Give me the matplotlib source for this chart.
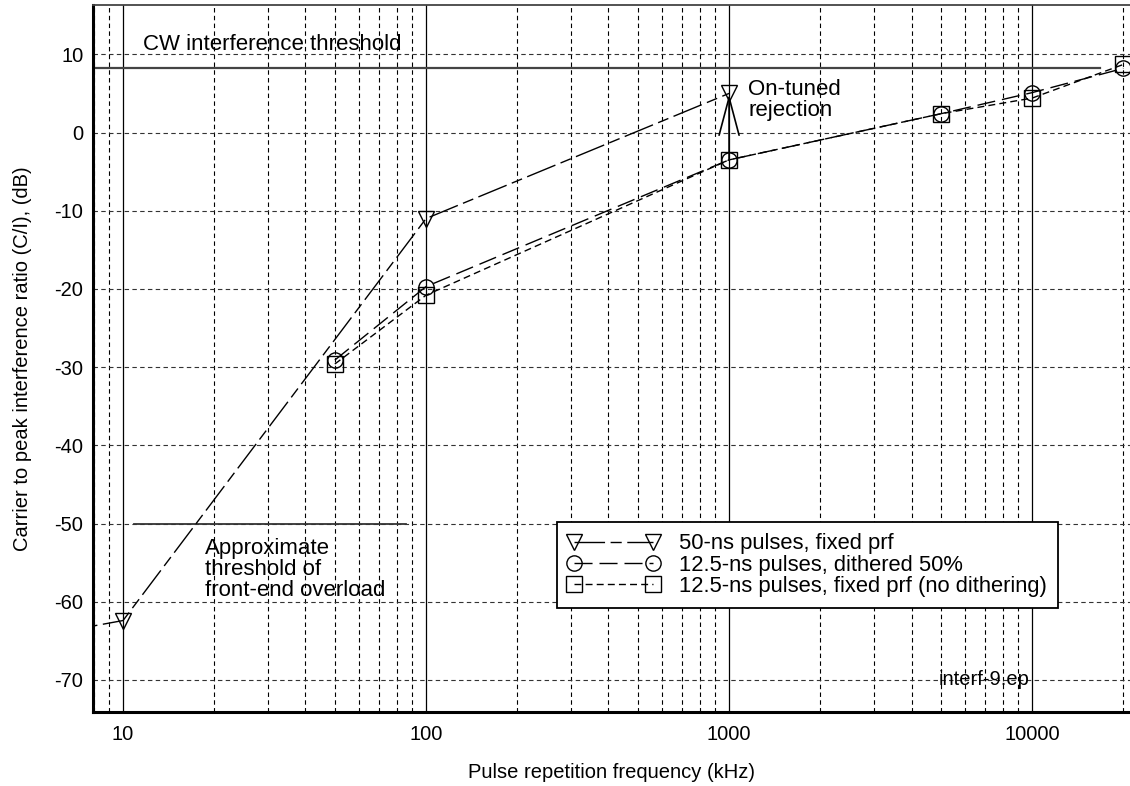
import numpy as np
import matplotlib.pyplot as plt
from matplotlib.ticker import FixedLocator, NullFormatter

plt.rcParams['font.family'] = ['Liberation Sans', 'DejaVu Sans']
plt.rcParams['font.size'] = 16
plt.rcParams['axes.unicode_minus'] = False

# prf en kHz, C/I en dB
prf_50ns = [1, 10, 100, 1000]
ci_50ns = [-69.5, -62.4, -11.0, 5.0]

prf_dith = [50, 100, 1000, 5000, 10000, 20000]
ci_dith = [-29.1, -19.7, -3.5, 2.4, 5.1, 8.2]

prf_fixe = [50, 100, 1000, 5000, 10000, 20000]
ci_fixe = [-29.6, -20.8, -3.5, 2.4, 4.4, 8.7]

seuil_cw = 8.2
seuil_surcharge = -50

etiquettes = ["50-ns pulses, fixed prf",
              "12.5-ns pulses, dithered 50%",
              "12.5-ns pulses, fixed prf (no dithering)"]

fig = plt.figure(figsize=(11.3, 7.86), dpi=100)
ax = fig.add_axes([0.0823, 0.0941, 0.9177, 0.8995])
ax.set_xscale('log')
ax.set_xlim(7.96, 21040)
ax.set_ylim(-74.1, 16.3)

# grille: decades en trait plein, le reste en pointilles
decades = [10, 100, 1000, 10000]
mineurs = [m * d for d in [1, 10, 100, 1000, 10000] for m in range(2, 10)]
for d in decades:
    ax.axvline(d, color='black', lw=0.9, zorder=1)
for m in mineurs:
    ax.axvline(m, color='black', lw=0.8, ls=(0, (4, 3)), zorder=1)
for y in range(-70, 11, 10):
    ax.axhline(y, color='#333333', lw=0.8, ls=(0, (4, 3)), zorder=1)

ax.xaxis.set_major_locator(FixedLocator(decades))
ax.set_xticklabels([str(d) for d in decades])
ax.xaxis.set_minor_locator(FixedLocator(mineurs))
ax.xaxis.set_minor_formatter(NullFormatter())
ax.set_yticks(range(-70, 11, 10))
ax.tick_params(which='both', length=0, labelsize=14.5)
ax.tick_params(axis='x', pad=9)
ax.tick_params(axis='y', pad=7)

# seuils
ax.plot([7.96, 16700], [seuil_cw, seuil_cw], color='#444444', lw=1.6, zorder=2)
ax.plot([10.9, 86], [seuil_surcharge, seuil_surcharge], color='#333333', lw=1.3, zorder=2)

ax.plot(prf_50ns, ci_50ns, color='black', lw=1.0, ls=(0, (22, 4, 8, 4)),
        marker='v', ms=12, mfc='none', mec='black', mew=1.0, zorder=4, label=etiquettes[0])
ax.plot(prf_dith, ci_dith, color='black', lw=1.0, ls=(0, (13, 5)),
        marker='o', ms=11, mfc='none', mec='black', mew=1.0, zorder=4, label=etiquettes[1])
ax.plot(prf_fixe, ci_fixe, color='black', lw=1.0, ls=(0, (5, 3)),
        marker='s', ms=11, mfc='none', mec='black', mew=1.0, zorder=4, label=etiquettes[2])

# fleche de rejection
ax.annotate('', xy=(prf_50ns[3], ci_50ns[3] - 0.1), xytext=(prf_dith[2], ci_dith[2]),
            arrowprops=dict(arrowstyle='->,head_length=1.7,head_width=0.45',
                            color='black', lw=1.2, shrinkA=0, shrinkB=0), zorder=3)

ax.text(11.6, 11.2, "CW interference threshold", va='center', ha='left')
ax.text(1155, 4.2, "On-tuned\nrejection", va='center', ha='left', linespacing=1.0)
ax.text(18.6, -55.9, "Approximate\nthreshold of\nfront-end overload",
        va='center', ha='left', linespacing=1.0)
ax.text(4930, -70.0, "interf-9.ep", fontsize=14.5, va='center', ha='left')

leg = ax.legend(loc='lower left', bbox_to_anchor=(0.447, 0.147), numpoints=2,
                handlelength=4.2, handletextpad=0.9, borderpad=0.5, labelspacing=0.02,
                borderaxespad=0, fancybox=False, framealpha=1, edgecolor='black',
                fontsize=15.8)
leg.get_frame().set_linewidth(1.3)
leg.set_zorder(5)

for cote in ['left', 'bottom']:
    ax.spines[cote].set_linewidth(2.2)
ax.spines['top'].set_linewidth(1.3)
ax.spines['top'].set_color('#444444')
ax.spines['right'].set_visible(False)

ax.set_xlabel("Pulse repetition frequency (kHz)", fontsize=14.5, labelpad=14)
ax.set_ylabel("Carrier to peak interference ratio (C/I), (dB)", fontsize=14.5, labelpad=16)

plt.savefig("out.png", dpi=100)
